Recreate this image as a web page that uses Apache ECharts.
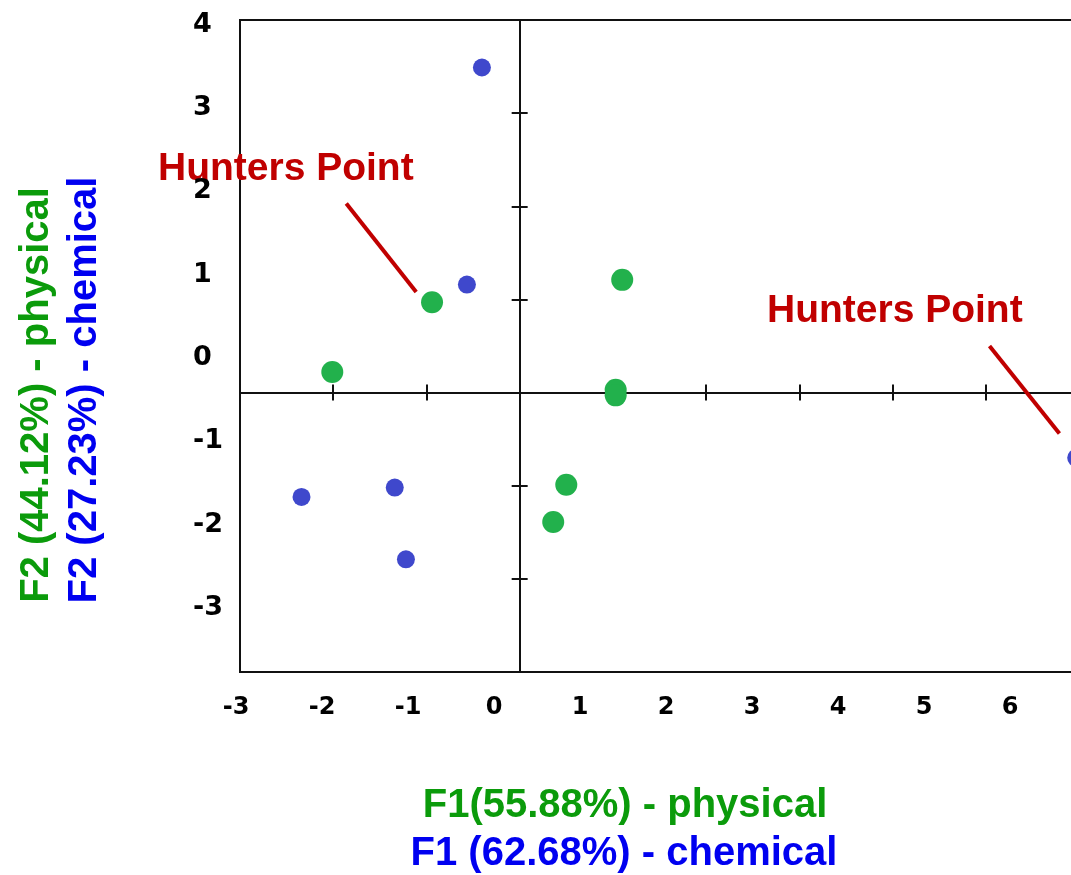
<!DOCTYPE html>
<html>
<head>
<meta charset="utf-8">
<script src="https://cdn.jsdelivr.net/npm/echarts@6/dist/echarts.min.js"></script>
<style>html,body{margin:0;padding:0;background:#fff;}#c{width:1071px;height:875px;}</style>
</head>
<body>
<div id="c"></div>
<script>
// ---- data ----
const physicalF1 = [-2.01, -0.94, 1.10, 1.03, 1.03, 0.50, 0.36];
const physicalF2 = [0.22, 0.97, 1.21, 0.03, -0.03, -0.99, -1.39];
const chemicalF1 = [-0.405, -0.566, -2.34, -1.34, -1.22, 5.97];
const chemicalF2 = [3.49, 1.16, -1.12, -1.02, -1.79, -0.70];
const xTickLabels = [-3, -2, -1, 0, 1, 2, 3, 4, 5, 6];
const yTickLabels = [-3, -2, -1, 0, 1, 2, 3, 4];
const annotationText = 'Hunters Point';
const leaderFrom = [[-1.86, 2.03], [5.04, 0.50]];
const leaderTo = [[-1.11, 1.08], [5.79, -0.44]];
const xTitles = ['F1(55.88%) - physical', 'F1 (62.68%) - chemical'];
const yTitles = ['F2 (44.12%) - physical', 'F2 (27.23%) - chemical'];

const GREEN = '#22b14c', BLUE = '#3f48cc', RED = '#c00000';
const TGREEN = '#0b9b0b', TBLUE = '#0000f0';
const LINE = '#111111';

const physical = physicalF1.map((x, i) => [x, physicalF2[i]]);
const chemical = chemicalF1.map((x, i) => [x, chemicalF2[i]]);
const leaders = leaderFrom.map((p, i) => [{coord: p}, {coord: leaderTo[i]}]);

const xMin = xTickLabels[0], xMax = xTickLabels[xTickLabels.length - 1];
const yMin = yTickLabels[0], yMax = yTickLabels[yTickLabels.length - 1];

const chart = echarts.init(document.getElementById('c'), null, {renderer: 'canvas'});

const hidden = {show: false};
const mainAxisX = (pos, idx, withLine) => ({
  type: 'value', gridIndex: 0, position: pos, min: xMin, max: xMax, interval: 1,
  axisLine: {show: withLine, onZero: true, onZeroAxisIndex: idx, lineStyle: {color: LINE, width: 2}},
  axisTick: {show: true, length: 8, lineStyle: {color: LINE, width: 2}},
  axisLabel: hidden, splitLine: hidden
});
const mainAxisY = (pos, idx, withLine) => ({
  type: 'value', gridIndex: 0, position: pos, min: yMin, max: yMax, interval: 1,
  axisLine: {show: withLine, onZero: true, onZeroAxisIndex: idx, lineStyle: {color: LINE, width: 2}},
  axisTick: {show: true, length: 8, lineStyle: {color: LINE, width: 2}},
  axisLabel: hidden, splitLine: hidden
});

const FONT = '"Liberation Sans", Arial, sans-serif';

const option = {
  animation: false,
  backgroundColor: '#ffffff',
  grid: [
    {left: 240, right: -8, top: 20, bottom: 203, show: true, borderColor: LINE, borderWidth: 2,
     backgroundColor: 'transparent', containLabel: false, outerBoundsMode: 'none'},
    {left: 236, right: 61, top: 0, bottom: 187, containLabel: false, outerBoundsMode: 'none'},
    {left: 201, width: 100, top: 24.5, bottom: 267, containLabel: false, outerBoundsMode: 'none'}
  ],
  xAxis: [
    mainAxisX('bottom', 0, true),
    mainAxisX('top', 1, false),
    {type: 'value', gridIndex: 1, position: 'bottom', min: xMin, max: xMax, interval: 1,
     axisLine: {show: false, onZero: false}, axisTick: hidden, splitLine: hidden,
     axisLabel: {show: true, margin: 8, showMinLabel: true, showMaxLabel: true, hideOverlap: false,
       color: '#000', fontFamily: 'DejaVu Sans', fontWeight: 'bold', fontSize: 24}},
    {type: 'value', gridIndex: 2, show: false, min: 0, max: 1}
  ],
  yAxis: [
    mainAxisY('left', 0, true),
    mainAxisY('right', 1, false),
    {type: 'value', gridIndex: 1, show: false, min: 0, max: 1},
    {type: 'value', gridIndex: 2, position: 'left', min: yMin, max: yMax, interval: 1,
     axisLine: {show: false, onZero: false}, axisTick: hidden, splitLine: hidden,
     axisLabel: {show: true, margin: 8, align: 'left', showMinLabel: true, showMaxLabel: true, hideOverlap: false,
       color: '#000', fontFamily: 'DejaVu Sans', fontWeight: 'bold', fontSize: 27}}
  ],
  series: [
    {
      name: 'physical', type: 'scatter', xAxisIndex: 0, yAxisIndex: 0,
      data: physical, symbol: 'circle', symbolSize: 22,
      itemStyle: {color: GREEN, opacity: 1}, silent: true,
      markLine: {
        silent: true, symbol: ['none', 'none'], label: {show: false},
        lineStyle: {color: RED, width: 4, type: 'solid'},
        emphasis: {disabled: true},
        data: leaders
      }
    },
    {
      name: 'chemical', type: 'scatter', xAxisIndex: 0, yAxisIndex: 0,
      data: chemical, symbol: 'circle', symbolSize: 18,
      itemStyle: {color: BLUE, opacity: 1}, silent: true
    }
  ],
  graphic: [
    {type: 'text', left: 158, top: 150, silent: true,
     style: {text: annotationText, fill: RED, fontFamily: FONT, fontWeight: 'bold', fontSize: 39}},
    {type: 'text', left: 767, top: 292, silent: true,
     style: {text: annotationText, fill: RED, fontFamily: FONT, fontWeight: 'bold', fontSize: 39}},
    {type: 'text', x: 625, y: 806, silent: true,
     style: {text: xTitles[0], fill: TGREEN, align: 'center', verticalAlign: 'middle', fontFamily: FONT, fontWeight: 'bold', fontSize: 40}},
    {type: 'text', x: 624, y: 854, silent: true,
     style: {text: xTitles[1], fill: TBLUE, align: 'center', verticalAlign: 'middle', fontFamily: FONT, fontWeight: 'bold', fontSize: 40}},
    {type: 'text', x: 37, y: 395, rotation: Math.PI / 2, silent: true,
     style: {text: yTitles[0], fill: TGREEN, align: 'center', verticalAlign: 'middle', fontFamily: FONT, fontWeight: 'bold', fontSize: 40}},
    {type: 'text', x: 85, y: 390, rotation: Math.PI / 2, silent: true,
     style: {text: yTitles[1], fill: TBLUE, align: 'center', verticalAlign: 'middle', fontFamily: FONT, fontWeight: 'bold', fontSize: 40}}
  ]
};
chart.setOption(option);
</script>
</body>
</html>
